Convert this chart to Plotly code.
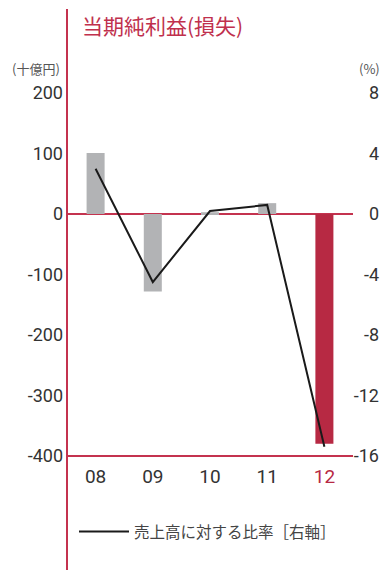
import plotly.graph_objects as go

years = ["08", "09", "10", "11", "12"]
net_income = [101, -128, 3, 18, -380]          # 十億円
ratio = [3.0, -4.5, 0.2, 0.6, -15.4]            # %
bar_colors = ["#B2B3B5", "#B2B3B5", "#B2B3B5", "#B2B3B5", "#B72943"]
left_ticks = [200, 100, 0, -100, -200, -300, -400]
left_text = ["200", "100", "0", "-100", "-200", "-300", "-400"]
right_ticks = [8, 4, 0, -4, -8, -12, -16]
right_text = ["8", "4", "0", "-4", "-8", "-12", "-16"]
tick_text_x = ["08", "09", "10", "11", "<span style='color:#B72943'>12</span>"]

RED = "#C4334F"
TXT = "#333333"
FONT = "Roboto, Arial, sans-serif"
JP = "Noto Sans CJK JP"

W, H = 385, 570
L, R, T, B = 67, 3, 81, 102
plot_w = W - L - R
plot_h = H - T - B
xdom_end = (353 - L) / plot_w


def px(xp):
    return (xp - L) / plot_w


def py(yp):
    return (H - B - yp) / plot_h


fig = go.Figure()
fig.add_trace(go.Bar(
    x=years, y=net_income, marker=dict(color=bar_colors, line=dict(width=0)),
    width=0.315, showlegend=False, hoverinfo="skip", yaxis="y"))
fig.add_trace(go.Scatter(
    x=years, y=ratio, mode="lines", line=dict(color="#1a1a1a", width=2),
    name="売上高に対する比率［右軸］", yaxis="y2"))

fig.update_layout(
    width=W, height=H,
    margin=dict(l=L, r=R, t=T, b=B, pad=0),
    plot_bgcolor="white", paper_bgcolor="white",
    font=dict(family=FONT, color=TXT, size=18),
    xaxis=dict(domain=[0, xdom_end], type="category", range=[-0.5, 4.5],
               tickmode="array", tickvals=years, ticktext=tick_text_x,
               showline=False, ticks="",
               showgrid=False, zeroline=False, ticklabelstandoff=-5,
               tickfont=dict(size=19, color=TXT, family=FONT)),
    yaxis=dict(range=[-420, 220], tickvals=left_ticks, ticktext=left_text,
               showgrid=False,
               zeroline=True, zerolinecolor=RED, zerolinewidth=2,
               showline=False, ticks="", ticklabelstandoff=3,
               tickfont=dict(size=18, color=TXT, family=FONT)),
    yaxis2=dict(range=[-16.8, 8.8], tickvals=right_ticks, ticktext=right_text,
                overlaying="y",
                side="right", anchor="free", position=1, showgrid=False,
                zeroline=False, showline=False, ticks="",
                ticklabelposition="inside",
                tickfont=dict(size=18, color=TXT, family=FONT)),
    legend=dict(x=px(74), y=py(532),
                xanchor="left", yanchor="middle", orientation="h",
                bgcolor="rgba(0,0,0,0)", itemwidth=50,
                font=dict(size=15.5, color="#444444", family=JP)),
    showlegend=True,
)

# bottom baseline at -400
fig.add_shape(type="line", xref="x domain", yref="y", x0=0, x1=1,
              y0=-400, y1=-400, line=dict(color=RED, width=2), layer="above")

# left vertical rule extending beyond plot area
fig.add_shape(type="line", xref="paper", yref="paper", x0=0, x1=0,
              y0=py(572), y1=py(9),
              line=dict(color=RED, width=2), layer="above")

fig.add_annotation(text="当期純利益(損失)", xref="paper", yref="paper",
                   x=px(80), y=py(25),
                   xanchor="left", yanchor="middle", showarrow=False,
                   font=dict(size=21, color="#C0304D", family=JP))
fig.add_annotation(text="(十億円)", xref="paper", yref="paper",
                   x=px(62), y=py(68),
                   xanchor="right", yanchor="middle", showarrow=False,
                   font=dict(size=13, color="#555555", family=JP))
fig.add_annotation(text="(%)", xref="paper", yref="paper",
                   x=px(382), y=py(68),
                   xanchor="right", yanchor="middle", showarrow=False,
                   font=dict(size=13, color="#555555", family=JP))

fig.write_html("out.html")
